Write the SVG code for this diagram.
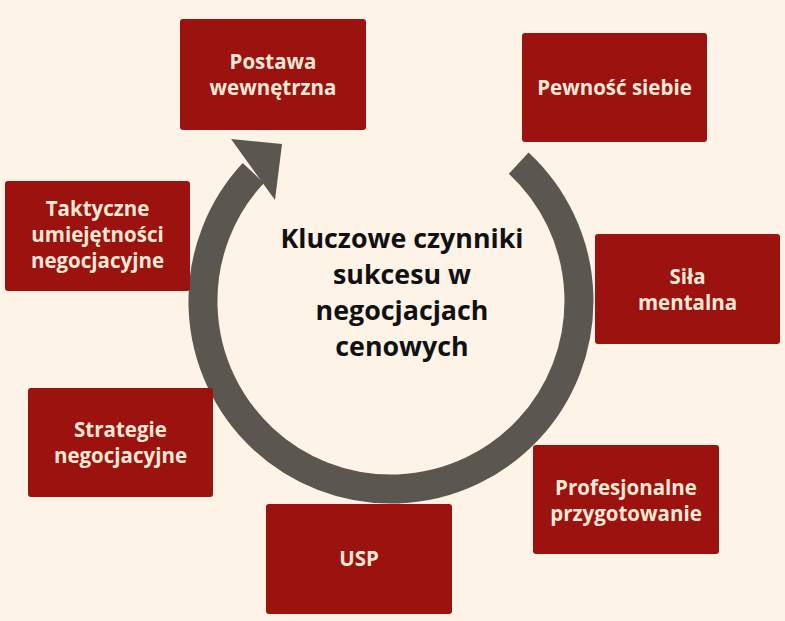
<svg xmlns="http://www.w3.org/2000/svg" width="785" height="621" viewBox="0 0 785 621">
  <style>
    .box { fill: #9b120e; }
    .lbl { font-family: "Open Sans", "Liberation Sans", sans-serif; font-weight: 700; font-size: 20.5px; fill: #fbe9d7; text-anchor: middle; }
    .title { font-family: "Open Sans", "Liberation Sans", sans-serif; font-weight: 700; font-size: 26.8px; fill: #111111; text-anchor: middle; }
    .ring { fill: none; stroke: #5b5650; stroke-width: 29; }
    .head { fill: #5b5650; }
  </style>
  <rect x="0" y="0" width="785" height="621" fill="#fdf3e7"/>

  <g id="connectors">
    <path class="ring" d="M 518.7 163.1 A 188 188 0 1 1 253.3 173.0"/>
    <polygon class="head" points="231,139 282,144 275,200"/>
  </g>

  <g id="center">
    <text class="title" x="402" y="248">Kluczowe czynniki</text>
    <text class="title" x="402" y="284">sukcesu w</text>
    <text class="title" x="402" y="320">negocjacjach</text>
    <text class="title" x="402" y="356">cenowych</text>
  </g>

  <g id="postawa">
    <rect class="box" x="180" y="19" width="186" height="111" rx="3"/>
    <text class="lbl" x="273" y="68.5">Postawa</text>
    <text class="lbl" x="273" y="94.5">wewnętrzna</text>
  </g>

  <g id="pewnosc">
    <rect class="box" x="522" y="33" width="185" height="109" rx="3"/>
    <text class="lbl" x="614.5" y="94.5">Pewność siebie</text>
  </g>

  <g id="sila">
    <rect class="box" x="595" y="234" width="185" height="110" rx="3"/>
    <text class="lbl" x="687.5" y="283.5">Siła</text>
    <text class="lbl" x="687.5" y="309.5">mentalna</text>
  </g>

  <g id="profesjonalne">
    <rect class="box" x="533" y="445" width="186" height="109" rx="3"/>
    <text class="lbl" x="626" y="494.5">Profesjonalne</text>
    <text class="lbl" x="626" y="520.5">przygotowanie</text>
  </g>

  <g id="usp">
    <rect class="box" x="266" y="504" width="186" height="110" rx="3"/>
    <text class="lbl" x="359" y="566">USP</text>
  </g>

  <g id="strategie">
    <rect class="box" x="28" y="388" width="185" height="109" rx="3"/>
    <text class="lbl" x="120.5" y="436.5">Strategie</text>
    <text class="lbl" x="120.5" y="462.5">negocjacyjne</text>
  </g>

  <g id="taktyczne">
    <rect class="box" x="5" y="181" width="185" height="110" rx="3"/>
    <text class="lbl" x="97.5" y="216">Taktyczne</text>
    <text class="lbl" x="97.5" y="242">umiejętności</text>
    <text class="lbl" x="97.5" y="268">negocjacyjne</text>
  </g>
</svg>
